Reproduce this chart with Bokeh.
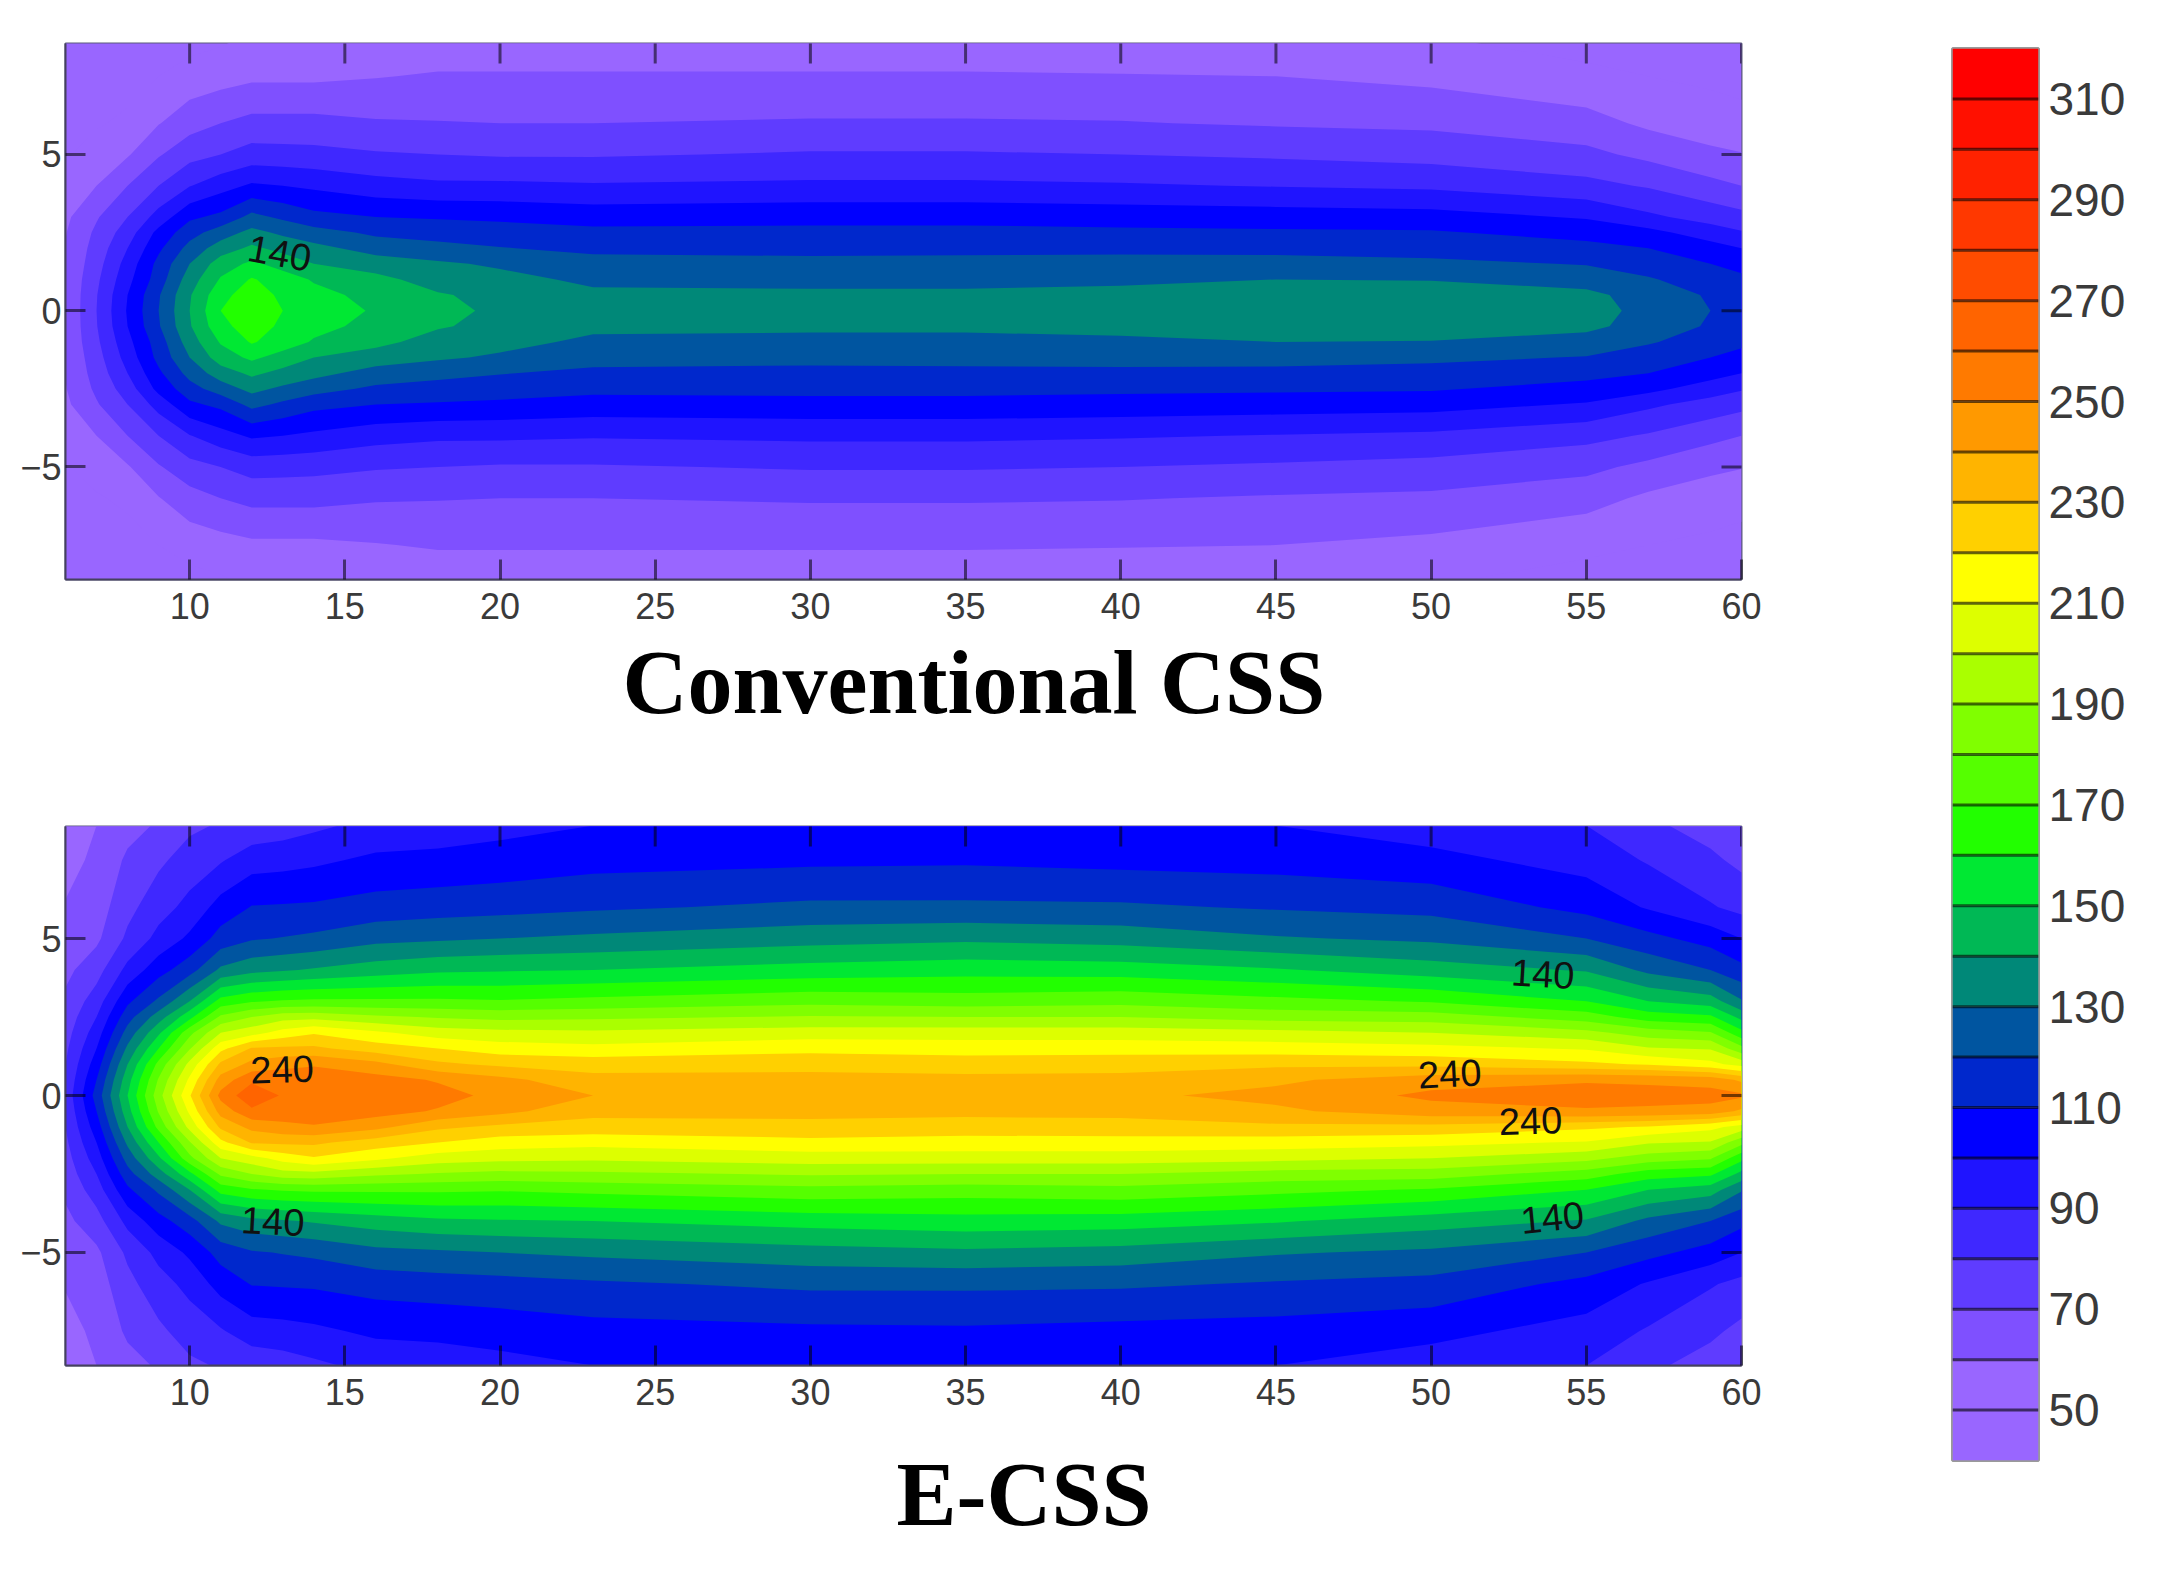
import math
import numpy as np
from bokeh.core.properties import value
from bokeh.embed import file_html
from bokeh.layouts import column, row
from bokeh.models import ColumnDataSource, FixedTicker, Title
from bokeh.plotting import figure
from bokeh.resources import INLINE

# contour bands (lower edges) and their colours
band_lows = list(range(40, 320, 10))
band_colors = [
    "#9966FF", "#9966FF", "#7F50FF", "#5F3CFF", "#3F28FF", "#1F14FF", "#0000FF", "#0028CC",
    "#0055A0", "#008878", "#00B855", "#00E833", "#22FF00", "#55FF00", "#80FF00", "#AAFF00",
    "#DDFF00", "#FFFF00", "#FFD000", "#FFB400", "#FF9900", "#FF7A00", "#FF6400", "#FF4C00",
    "#FF3800", "#FF2200", "#FF1000", "#FF0000",
]
colorbar_ticks = list(range(50, 320, 20))

# grid stations
x_stations = [6, 7, 8, 9, 10, 11, 12, 13, 14, 16, 18, 20, 23, 30, 35, 40, 45, 50, 55, 57, 59, 60]
y_half = [0, 0.5, 1, 1.5, 2, 2.5, 3, 4, 5, 6, 7.5, 8.6]

# values, one list per x station, for |y| in y_half
conventional_css = [
    [61, 61, 61, 60.5, 60.5, 59.5, 58, 53, 49, 46, 44, 42],
    [80, 79.5, 78, 76, 74, 72, 69, 60, 54, 49, 45, 43],
    [101, 100, 97, 94, 90, 85, 80, 70, 59, 52, 46, 43],
    [120, 119, 115, 113, 108, 103, 94, 80, 69, 59.5, 50, 45],
    [140, 139, 135, 130, 123.5, 116, 108, 89.5, 76.5, 66, 54, 47],
    [160, 157, 151, 145, 135, 125, 112.5, 96, 80, 70, 56, 49],
    [167, 165, 161, 152, 142, 133, 123, 101.5, 84, 73, 58, 52],
    [160, 158, 155, 146, 137, 128, 118, 100, 83.5, 73, 58, 52],
    [155, 153, 149, 140, 133, 124, 113, 98, 83, 73, 58, 52],
    [149, 147, 143, 135, 126, 118, 110, 94, 81, 71, 59.5, 52],
    [143, 141, 135.5, 131.5, 123, 116, 109, 92, 80, 70.5, 61, 54],
    [138, 137, 133, 128.5, 120.5, 114.5, 108, 92, 79, 70, 61, 54],
    [134, 132, 128, 124, 117.5, 112.5, 106, 91, 79, 70, 61, 54],
    [133, 132, 127, 122, 118, 112.5, 107, 92, 81, 71, 61, 54],
    [133, 132, 127, 122.5, 118, 112.5, 107, 92, 81, 71, 61, 54],
    [135, 133, 128, 123, 118, 112, 106, 91, 80, 70.5, 60.5, 54],
    [138, 136, 130, 124, 117, 111.5, 105, 89.5, 78.5, 69, 60, 54],
    [138, 136, 129.5, 122, 116.5, 111, 104, 88, 76.5, 68, 57.5, 51],
    [134, 133, 125, 119.5, 113, 106.5, 99, 83, 72.5, 64, 52, 47],
    [127, 125, 121, 115, 110, 103, 92, 79, 67.5, 58, 50, 45],
    [120, 119, 115, 110, 104, 95, 86, 73, 62, 55, 48, 44],
    [117, 116, 112, 107, 100, 91, 83, 70, 60.5, 53, 47, 43],
]
e_css = [
    [83, 81.5, 80, 78, 76, 74, 72, 67.5, 64, 61, 55, 52],
    [114, 110, 105, 100, 95, 90, 85, 76, 68, 65, 63, 60],
    [150, 146, 140, 132, 124, 116, 108, 93, 82, 77, 71.5, 67],
    [186, 181, 173, 160, 148, 135, 122, 106, 93, 86, 78, 71],
    [219, 212, 203, 189, 177, 157, 140, 116, 102, 93, 84.5, 78],
    [253, 244, 232, 217, 200, 182, 164, 132, 114, 104, 89, 81],
    [267, 258, 243, 231, 206, 190, 169, 137, 119, 110.5, 95.5, 83],
    [259, 256, 247, 232, 214, 196, 171, 139, 120.5, 111, 96.5, 85],
    [258, 256, 249, 232, 219, 197, 172, 141, 122, 111.5, 98, 88],
    [258, 254, 243, 225, 212, 192, 172, 145, 127, 114, 102, 93],
    [254, 249, 232, 220, 205, 189, 172, 148, 128.5, 115.5, 102.5, 95],
    [247, 243, 228, 215, 203, 187, 171, 149, 130, 116.5, 104, 97],
    [240, 233, 226, 213, 202, 188, 173, 150, 132, 118.5, 106.5, 100],
    [236, 233, 227, 217, 205, 191, 177, 154, 136, 122, 108, 101],
    [236, 233, 225, 216, 205, 190, 175, 156, 138, 122, 108.5, 102],
    [238, 233, 226, 216, 205, 190, 177, 155, 136, 121.5, 107, 101],
    [243, 238, 228, 215, 203, 186, 173, 151, 131, 119, 106, 100],
    [252, 246, 227, 213, 200, 185, 169, 145, 128, 117, 103, 95],
    [254, 249, 222, 209, 193, 175, 160, 139, 120, 107, 96, 90],
    [254, 248, 219, 201, 185, 165, 150, 127.5, 113, 99, 89, 82],
    [254, 246, 213, 199, 181, 162, 145, 120, 106, 91, 82, 76],
    [252, 238, 206, 183, 163, 147, 131, 113, 100, 87, 77.5, 72],
]

# in-plot contour labels
css_label_x = [12.9]
css_label_y = [1.85]
css_label_text = ["140"]
css_label_angle = [-0.18]
ecss_label_x = [12.98, 50.6, 53.2, 53.6, 12.68, 53.9]
ecss_label_y = [0.84, 0.7, -0.8, 3.88, -4.0, -3.88]
ecss_label_text = ["240", "240", "240", "140", "140", "140"]
ecss_label_angle = [0.03, 0.05, 0.03, -0.06, -0.05, 0.1]

x_ticks = [10, 15, 20, 25, 30, 35, 40, 45, 50, 55, 60]
y_ticks = [-5, 0, 5]
FONT = "Liberation Sans"
TICK_LEN = 20


def panel(table, y_range, frame_h, top, bottom, labels, title, title_offset, title_standoff, height):
    half = np.array(table, dtype=float).T
    z = np.vstack([half[:0:-1], half])
    y = np.array([-v for v in y_half[:0:-1]] + y_half)
    x = np.array(x_stations, dtype=float)
    p = figure(width=1788, height=height, frame_width=1676, frame_height=frame_h,
               x_range=(6, 60), y_range=y_range, output_backend="svg", toolbar_location=None,
               min_border_left=65, min_border_right=47, min_border_top=top, min_border_bottom=bottom,
               outline_line_color="#5a5a7a", outline_line_width=2)
    p.grid.visible = False
    p.background_fill_color = band_colors[0]
    for low, color in zip(band_lows, band_colors):
        if low <= z.max():
            p.contour(x, y, z, [low, 1000], fill_color=[color], line_color=None)
    p.xaxis.ticker = FixedTicker(ticks=x_ticks)
    p.yaxis.ticker = FixedTicker(ticks=y_ticks)
    p.yaxis.major_label_overrides = {-5: "\u22125", 0: "0", 5: "5"}
    for ax in (p.xaxis[0], p.yaxis[0]):
        ax.major_tick_in = TICK_LEN
        ax.major_tick_out = 0
        ax.major_tick_line_color = "#000000"
        ax.major_tick_line_alpha = 0.55
        ax.major_tick_line_width = 3
        ax.minor_tick_line_color = None
        ax.axis_line_color = "#45405f"
        ax.axis_line_width = 2
        ax.major_label_text_font = FONT
        ax.major_label_text_font_size = "36px"
        ax.major_label_text_color = "#3a3a3a"
    p.xaxis.major_label_standoff = 13
    p.yaxis.major_label_standoff = 4
    # top and right ticks: the frame clips the outer half of each dash
    p.scatter(x_ticks, [y_range[1]] * len(x_ticks), marker="dash", angle=math.pi / 2, size=2 * TICK_LEN,
              line_color="#000000", line_alpha=0.55, line_width=3)
    p.scatter([60] * len(y_ticks), y_ticks, marker="dash", size=2 * TICK_LEN,
              line_color="#000000", line_alpha=0.55, line_width=3)
    lx, ly, lt, la = labels
    src = ColumnDataSource(dict(x=lx, y=ly, t=lt, a=la))
    p.text("x", "y", text="t", angle="a", source=src, text_align="center", text_baseline="middle",
           text_font=value(FONT), text_font_size="38px", text_color="#101010")
    p.add_layout(Title(text=title, align="left", offset=title_offset, standoff=title_standoff,
                       text_font="Liberation Serif", text_font_style="bold", text_font_size="90px",
                       text_color="#000000"), "below")
    return p


p1 = panel(conventional_css, (-8.6, 8.55), 536, 43, 201,
           (css_label_x, css_label_y, css_label_text, css_label_angle),
           "Conventional CSS", 557, 18, 780)

p2 = panel(e_css, (-8.6, 8.57), 539, 46, 205,
           (ecss_label_x, ecss_label_y, ecss_label_text, ecss_label_angle),
           "E-CSS", 831, 71, 790)

cb = figure(width=370, height=1560, frame_width=86, frame_height=1412, x_range=(0, 1), y_range=(40, 320),
            output_backend="svg", toolbar_location=None, min_border_left=164, min_border_right=120,
            min_border_top=48, min_border_bottom=100, y_axis_location="right",
            outline_line_color="#9a9a9a", outline_line_width=3)
cb.grid.visible = False
cb.xaxis.visible = False
cb.quad(left=0, right=1, bottom=band_lows, top=[v + 10 for v in band_lows], fill_color=band_colors, line_color=None)
levels = band_lows[1:]
cb.segment(x0=[0] * len(levels), x1=[1] * len(levels), y0=levels, y1=levels,
           line_color="#000000", line_alpha=0.6, line_width=3)
cb.yaxis.ticker = FixedTicker(ticks=colorbar_ticks)
ax = cb.yaxis[0]
ax.major_tick_in = 0
ax.major_tick_out = 0
ax.minor_tick_line_color = None
ax.axis_line_color = None
ax.major_label_text_font = FONT
ax.major_label_text_font_size = "46px"
ax.major_label_text_color = "#3a3a3a"
ax.major_label_standoff = 10

layout = row(column(p1, p2), cb)
open("out.html", "w").write(file_html(layout, INLINE))
